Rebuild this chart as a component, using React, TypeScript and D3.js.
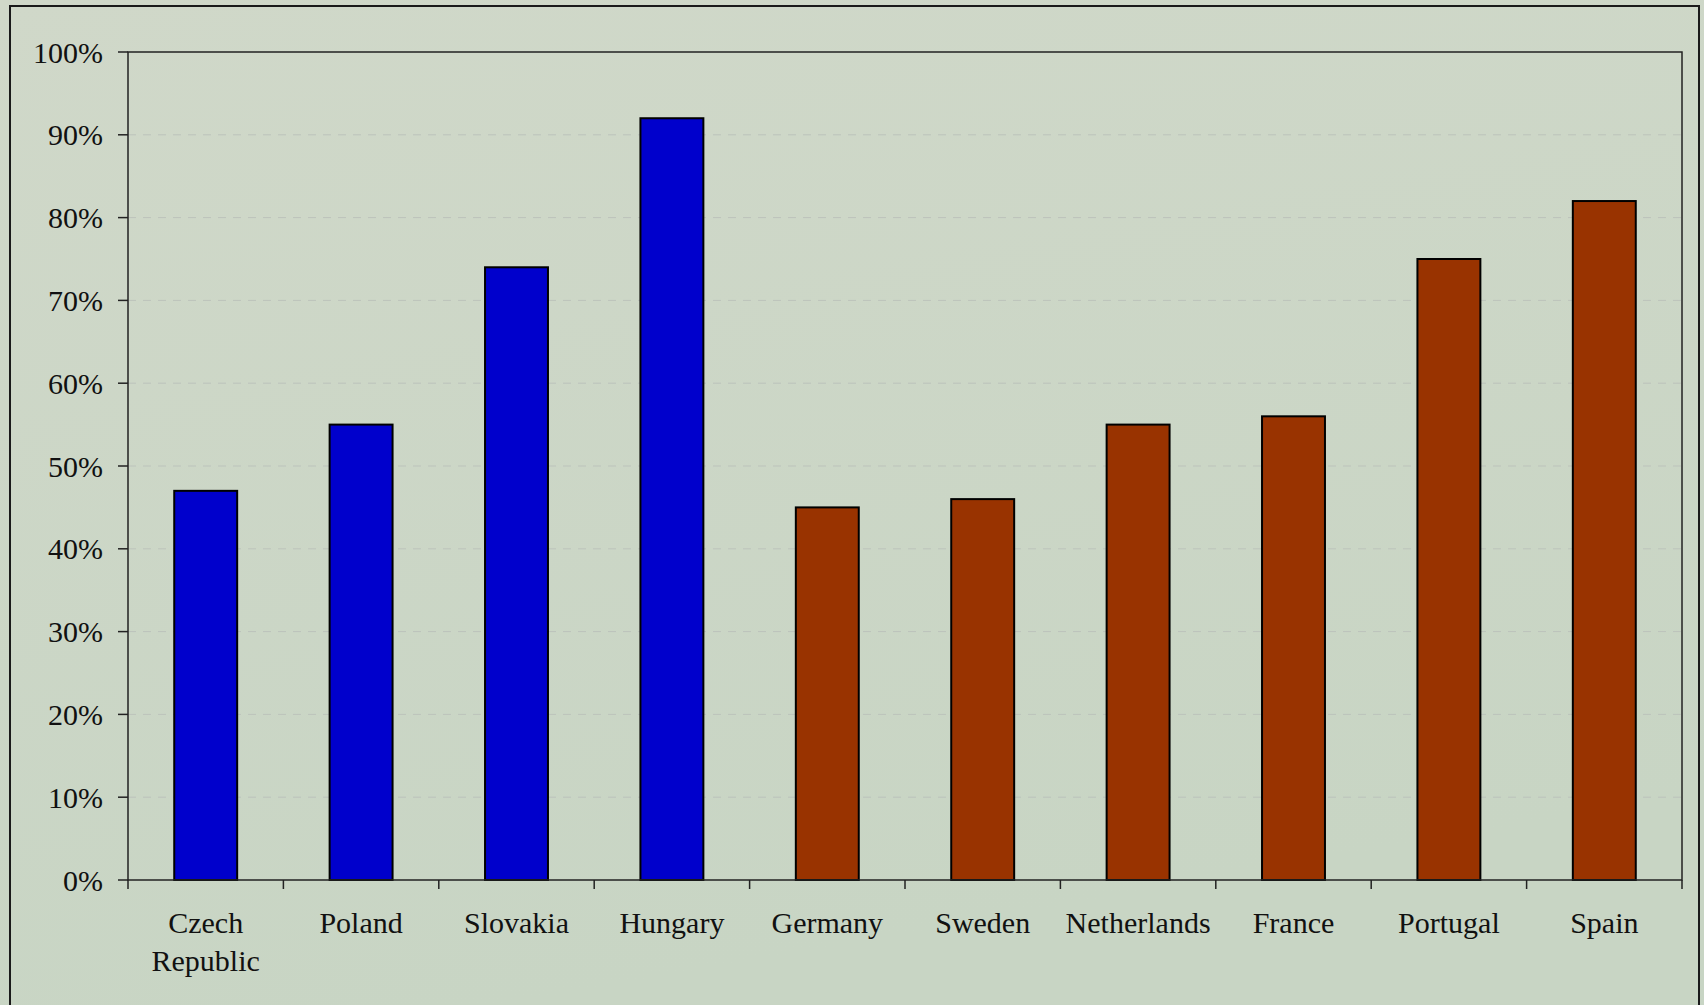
import React, { useEffect, useRef } from "react";
import * as d3 from "d3";

const categories = ["Czech Republic", "Poland", "Slovakia", "Hungary", "Germany", "Sweden", "Netherlands", "France", "Portugal", "Spain"];
const values = [47, 55, 74, 92, 45, 46, 55, 56, 75, 82];
const groups = ["east", "east", "east", "east", "west", "west", "west", "west", "west", "west"];
const yTicks = [0, 10, 20, 30, 40, 50, 60, 70, 80, 90, 100];
const groupColors: Record<string, string> = { east: "#0000CC", west: "#993300" };

const W = 1704;
const H = 1005;
const M = { left: 128, right: 22, top: 52, bottom: 125 };
const FONT = "'Liberation Serif', 'Times New Roman', serif";

export default function App() {
  const ref = useRef<SVGSVGElement>(null);
  useEffect(() => {
    const svg = d3.select(ref.current);
    svg.selectAll("*").remove();

    const defs = svg.append("defs");
    const grad = defs.append("linearGradient").attr("id", "bg").attr("x1", 0).attr("y1", 0).attr("x2", 0.3).attr("y2", 1);
    grad.append("stop").attr("offset", "0%").attr("stop-color", "#d0d8c9");
    grad.append("stop").attr("offset", "100%").attr("stop-color", "#c8d5c4");

    svg.append("rect").attr("width", W).attr("height", H).attr("fill", "url(#bg)");
    svg.append("rect").attr("x", 10).attr("y", 6).attr("width", 1689).attr("height", 1010)
      .attr("fill", "none").attr("stroke", "#1a1a1a").attr("stroke-width", 2);

    const x = d3.scaleBand<string>().domain(categories).range([M.left, W - M.right]).paddingInner(0.595).paddingOuter(0.2975);
    const xb = d3.scaleBand<string>().domain(categories).range([M.left, W - M.right]).padding(0);
    const y = d3.scaleLinear().domain([0, 100]).range([H - M.bottom, M.top]);

    const g = svg.append("g");
    // gridlines
    g.selectAll("line.grid").data(yTicks.filter((t) => t > 0 && t < 100)).join("line")
      .attr("x1", M.left).attr("x2", W - M.right)
      .attr("y1", (d) => y(d)).attr("y2", (d) => y(d))
      .attr("stroke", "#bcc3bb").attr("stroke-width", 1).attr("stroke-dasharray", "8,7");

    // bars
    g.selectAll("rect.bar").data(categories).join("rect")
      .attr("x", (d) => x(d)!).attr("width", x.bandwidth())
      .attr("y", (_, i) => y(values[i])).attr("height", (_, i) => y(0) - y(values[i]))
      .attr("fill", (_, i) => groupColors[groups[i]])
      .attr("stroke", "#000").attr("stroke-width", 2);

    // plot frame
    g.append("rect").attr("x", M.left).attr("y", M.top).attr("width", W - M.right - M.left).attr("height", y(0) - M.top)
      .attr("fill", "none").attr("stroke", "#222").attr("stroke-width", 1.5);

    // y axis ticks and labels
    g.selectAll("line.yt").data(yTicks).join("line")
      .attr("x1", M.left - 10).attr("x2", M.left).attr("y1", (d) => y(d)).attr("y2", (d) => y(d))
      .attr("stroke", "#222").attr("stroke-width", 1.5);
    g.selectAll("text.yl").data(yTicks).join("text")
      .attr("x", M.left - 25).attr("y", (d) => y(d)).attr("dy", "0.35em")
      .attr("text-anchor", "end").attr("font-family", FONT).attr("font-size", 30).attr("fill", "#111")
      .text((d) => `${d}%`);

    // x ticks
    const bounds = categories.map((c) => xb(c)!).concat([W - M.right]);
    g.selectAll("line.xt").data(bounds).join("line")
      .attr("x1", (d) => d).attr("x2", (d) => d).attr("y1", y(0)).attr("y2", y(0) + 9)
      .attr("stroke", "#222").attr("stroke-width", 1.5);

    // x labels
    const lab = g.selectAll("text.xl").data(categories).join("text")
      .attr("x", (d) => xb(d)! + xb.bandwidth() / 2).attr("y", y(0) + 53)
      .attr("text-anchor", "middle").attr("font-family", FONT).attr("font-size", 30).attr("fill", "#111");
    lab.each(function (d) {
      const t = d3.select(this);
      const words = d === "Czech Republic" ? ["Czech", "Republic"] : [d];
      words.forEach((w, i) => {
        t.append("tspan").attr("x", xb(d)! + xb.bandwidth() / 2).attr("dy", i === 0 ? 0 : 38).text(w);
      });
    });
  }, []);

  return (
    <svg ref={ref} width={W} height={H} style={{ position: "absolute", left: 0, top: 0, display: "block" }} />
  );
}
